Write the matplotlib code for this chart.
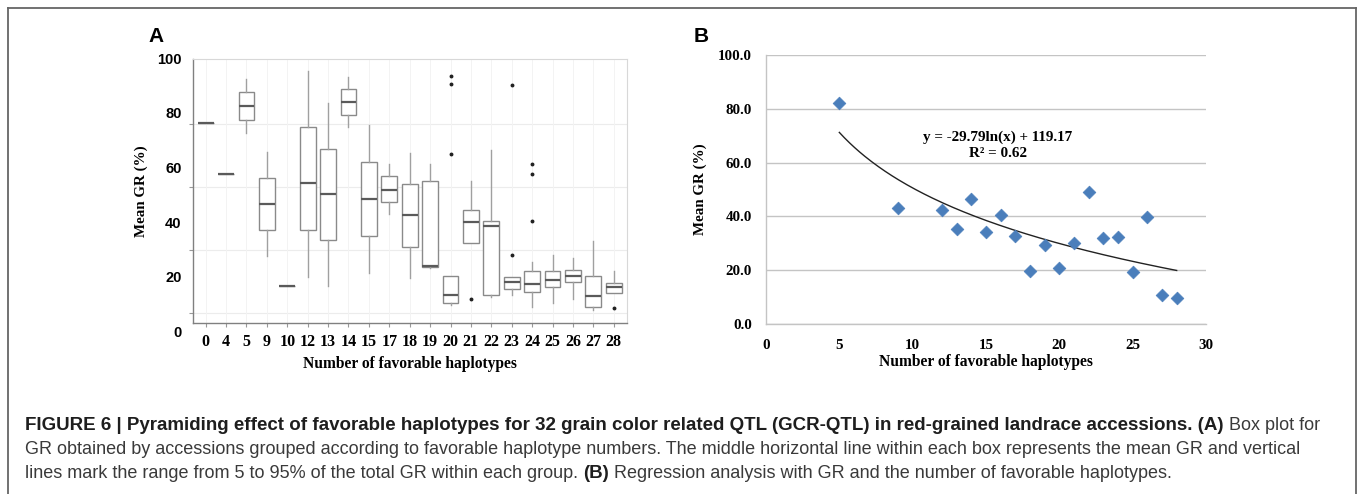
import numpy as np
import matplotlib
matplotlib.use("Agg")
import matplotlib.pyplot as plt
from matplotlib.lines import Line2D

# ---------------- data: panel A (box plot) ----------------
a_categories = [0, 4, 5, 9, 10, 12, 13, 14, 15, 17, 18, 19, 20, 21, 22, 23, 24, 25, 26, 27, 28]
a_whishi = [76.8, 58.3, 92.9, 66.2, 17.2, 96.0, 84.2, 93.8, 76.2, 61.9, 65.9, 61.9, 20.8, 55.6, 66.8, 20.3, 25.8, 28.5, 27.5, 33.7, 22.7]
a_q3     = [76.8, 58.3, 88.1, 56.8, 17.2, 75.3, 67.4, 89.3, 62.5, 57.3, 54.6, 55.6, 20.8, 44.9, 41.0, 20.3, 22.7, 22.7, 23.0, 20.8, 18.4]
a_med    = [76.8, 58.3, 83.0, 47.3, 17.2, 54.9, 50.7, 84.7, 49.1, 52.4, 43.1, 24.5, 13.9, 40.6, 39.0, 18.5, 17.8, 19.3, 20.8, 13.5, 16.9]
a_q1     = [76.8, 58.3, 78.0, 37.6, 17.2, 37.6, 33.9, 79.9, 35.4, 47.9, 31.3, 24.0, 11.1, 33.0, 13.9, 15.9, 14.8, 16.9, 18.5, 9.6, 14.7]
a_whislo = [76.8, 58.3, 73.1, 28.1, 17.2, 20.3, 17.2, 75.3, 21.8, 43.7, 20.0, 23.6, 10.1, 33.0, 13.0, 13.7, 9.4, 11.1, 12.5, 8.4, 14.7]
a_fliers = [[], [], [], [], [], [], [], [], [], [], [], [],
            [94.2, 91.1, 65.6], [12.5], [], [90.9, 28.5], [61.7, 58.3, 40.9], [], [], [], [9.0]]
a_ytick_labels = [0, 20, 40, 60, 80, 100]
a_grid_values = [76.6, 53.3, 30.3, 7.3]

# ---------------- data: panel B (scatter + log fit) ----------------
b_x = [5, 9, 12, 13, 14, 15, 16, 17, 18, 19, 20, 21, 22, 23, 24, 25, 26, 27, 28]
b_y = [82.2, 43.2, 42.3, 35.2, 46.6, 34.1, 40.5, 32.7, 19.8, 29.2, 20.9, 30.0, 49.1, 32.1, 32.5, 19.5, 39.9, 10.7, 9.8]
b_fit_slope = -29.79
b_fit_intercept = 119.17
b_r2 = 0.62
b_yticks = [0, 20, 40, 60, 80, 100]
b_xticks = [0, 5, 10, 15, 20, 25, 30]

W, H = 1358, 494
fig = plt.figure(figsize=(W / 100, H / 100), dpi=100)
fig.patch.set_facecolor("white")

def px_axes(left, top, right, bottom):
    return fig.add_axes([left / W, 1 - bottom / H, (right - left) / W, (bottom - top) / H])

SERIF = "Liberation Serif"
SANS = "Liberation Sans"

# ---------------- panel A ----------------
axA = px_axes(193, 59, 627, 323)
pos = np.arange(len(a_categories))
stats = []
for i in range(len(a_categories)):
    stats.append(dict(med=a_med[i], q1=a_q1[i], q3=a_q3[i], whislo=a_whislo[i],
                      whishi=a_whishi[i], fliers=a_fliers[i], label=str(a_categories[i])))
axA.bxp(stats, positions=pos, widths=0.78, showcaps=False, patch_artist=True,
        boxprops=dict(facecolor="white", edgecolor="#8a8a8a", linewidth=1.0),
        medianprops=dict(color="#5a5a5a", linewidth=1.6),
        whiskerprops=dict(color="#a0a0a0", linewidth=1.0),
        flierprops=dict(marker="o", markersize=1.8, markerfacecolor="#222222",
                        markeredgecolor="#222222", linestyle="none"))
axA.set_xlim(-0.62, len(a_categories) - 0.35)
axA.set_ylim(3.6, 100.3)
axA.set_yticks(a_grid_values)
axA.set_yticklabels([])
for v in a_grid_values:
    axA.axhline(v, color="#ececec", linewidth=0.8, zorder=0)
for p in pos:
    axA.axvline(p, color="#f3f3f3", linewidth=0.7, zorder=0)
axA.set_xticks(pos)
axA.set_xticklabels([str(c) for c in a_categories], fontfamily=SERIF, fontweight="bold", fontsize=11.5)
axA.tick_params(axis="x", length=3, color="#999999", pad=5)
axA.tick_params(axis="y", length=3, color="#999999")
for s in ["left", "bottom"]:
    axA.spines[s].set_color("#808080")
    axA.spines[s].set_linewidth(1.0)
for s in ["top", "right"]:
    axA.spines[s].set_color("#d8d8d8")
    axA.spines[s].set_linewidth(0.8)
for v in a_ytick_labels:
    axA.text(-0.026, v, str(v), transform=axA.get_yaxis_transform(), ha="right", va="center",
             fontfamily=SANS, fontweight="bold", fontsize=10.5, clip_on=False)
axA.set_ylabel("Mean GR (%)", fontfamily=SERIF, fontweight="bold", fontsize=10.8, labelpad=26)
axA.set_xlabel("Number of favorable haplotypes", fontfamily=SERIF, fontweight="bold", fontsize=11.2, labelpad=4)

# ---------------- panel B ----------------
axB = px_axes(766, 55, 1206, 324)
axB.set_xlim(0, 30)
axB.set_ylim(0, 100)
axB.set_yticks(b_yticks)
axB.set_yticklabels(["%.1f" % v for v in b_yticks], fontfamily=SERIF, fontweight="bold", fontsize=10.8)
axB.set_xticks(b_xticks)
axB.set_xticklabels([str(v) for v in b_xticks], fontfamily=SERIF, fontweight="bold", fontsize=10.8)
axB.tick_params(axis="both", length=0)
axB.tick_params(axis="y", pad=10)
axB.tick_params(axis="x", pad=11)
axB.grid(axis="y", color="#c4c4c4", linewidth=1.0)
axB.set_axisbelow(True)
for s in ["top", "right"]:
    axB.spines[s].set_visible(False)
for s in ["left", "bottom"]:
    axB.spines[s].set_color("#c4c4c4")
    axB.spines[s].set_linewidth(1.0)
xf = np.linspace(min(b_x), max(b_x), 200)
axB.plot(xf, b_fit_slope * np.log(xf) + b_fit_intercept, color="#222222", linewidth=1.0, zorder=2)
axB.scatter(b_x, b_y, marker="D", s=42, color="#4a7ebb", edgecolors="#4a7ebb", linewidths=0.5, zorder=3)
axB.text(0.527, 0.695, "y = %.2fln(x) + %.2f" % (b_fit_slope, b_fit_intercept), transform=axB.transAxes,
         ha="center", va="center", fontfamily=SERIF, fontweight="bold", fontsize=10.9)
axB.text(0.527, 0.632, "R\u00b2 = %.2f" % b_r2, transform=axB.transAxes,
         ha="center", va="center", fontfamily=SERIF, fontweight="bold", fontsize=10.9)
axB.set_ylabel("Mean GR (%)", fontfamily=SERIF, fontweight="bold", fontsize=10.8, labelpad=8)
axB.set_xlabel("Number of favorable haplotypes", fontfamily=SERIF, fontweight="bold", fontsize=11.2, labelpad=1)

# ---------------- panel letters ----------------
fig.text(156 / W, 1 - 37 / H, "A", fontfamily=SANS, fontweight="bold", fontsize=15, ha="center", va="center")
fig.text(701 / W, 1 - 37 / H, "B", fontfamily=SANS, fontweight="bold", fontsize=15, ha="center", va="center")

# ---------------- outer frame ----------------
frame_kw = dict(color="#666666", linewidth=1.3, transform=fig.transFigure)
fig.add_artist(Line2D([8 / W, 8 / W], [1 - 8 / H, -0.05], **frame_kw))
fig.add_artist(Line2D([8 / W, 1356 / W], [1 - 8 / H, 1 - 8 / H], **frame_kw))
fig.add_artist(Line2D([1356 / W, 1356 / W], [1 - 8 / H, -0.05], **frame_kw))

# ---------------- caption ----------------
caption_lines = [
    [("FIGURE 6 | Pyramiding effect of favorable haplotypes for 32 grain color related QTL (GCR-QTL) in red-grained landrace accessions. (A)", "bold"),
     (" Box plot for", "normal")],
    [("GR obtained by accessions grouped according to favorable haplotype numbers. The middle horizontal line within each box represents the mean GR and vertical", "normal")],
    [("lines mark the range from 5 to 95% of the total GR within each group. ", "normal"), ("(B)", "bold"),
     (" Regression analysis with GR and the number of favorable haplotypes.", "normal")],
]
caption_y = [425, 449, 473]
cap_x0 = 25
renderer = fig.canvas.get_renderer()

def seg_width(txt, wt, size):
    t = fig.text(0, 0, txt, fontfamily=SANS, fontweight=wt, fontsize=size)
    w = t.get_window_extent(renderer).width
    t.remove()
    return w

base = 12.0
reg_size = base * (1304 - cap_x0) / seg_width(caption_lines[1][0][0], "normal", base)
tail = seg_width(caption_lines[0][1][0], "normal", reg_size)
bold_size = base * (1314 - cap_x0 - tail) / seg_width(caption_lines[0][0][0], "bold", base)
sizes = {"bold": bold_size, "normal": reg_size}

for segs, yy in zip(caption_lines, caption_y):
    x = cap_x0
    for txt, wt in segs:
        t = fig.text(x / W, 1 - yy / H, txt, fontfamily=SANS, fontweight=wt, fontsize=sizes[wt],
                     ha="left", va="center", color="#1e1e1e" if wt == "bold" else "#3a3a3a")
        x += t.get_window_extent(renderer).width

fig.savefig("out.png", dpi=100, facecolor="white")
